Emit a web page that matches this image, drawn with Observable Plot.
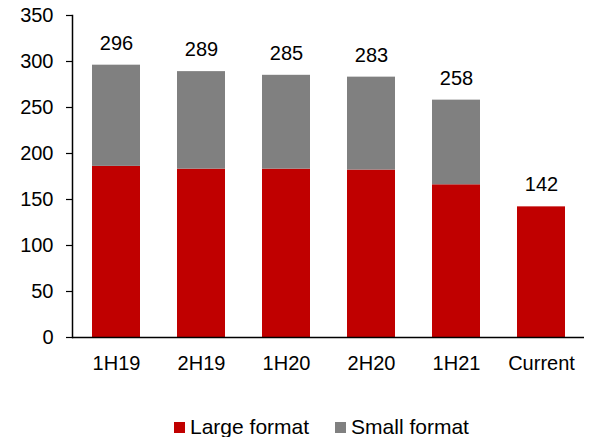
<!DOCTYPE html>
<html>
<head>
<meta charset="utf-8">
<script src="https://cdn.jsdelivr.net/npm/d3@7"></script>
<script src="https://cdn.jsdelivr.net/npm/@observablehq/plot@0.6"></script>
<style>
  body { margin: 0; background: #fff; font-family: "Liberation Sans", Arial, sans-serif; overflow: hidden; }
  #chart { width: 601px; }
  .legend { display: flex; justify-content: flex-start; align-items: center; gap: 26px;
            font-size: 21px; line-height: 24px; color: #000; padding-left: 174px; margin-top: 25px; }
  .legend span { display: inline-flex; align-items: center; }
  .legend i { display: inline-block; width: 11px; height: 11px; margin-right: 5px; }
</style>
</head>
<body>
<div id="chart"></div>
<script>
// Store counts by half-year period
const periods = ["1H19", "2H19", "1H20", "2H20", "1H21", "Current"];
const largeFormat = [186, 183, 183, 182, 166, 142];
const smallFormat = [110, 106, 102, 101, 92, 0];
const totals = [296, 289, 285, 283, 258, 142];
const seriesNames = ["Large format", "Small format"];
const seriesColors = ["#C00000", "#808080"];
const yTicks = [0, 50, 100, 150, 200, 250, 300, 350];

const rows = [];
periods.forEach((p, i) => {
  rows.push({period: p, series: seriesNames[0], value: largeFormat[i]});
  rows.push({period: p, series: seriesNames[1], value: smallFormat[i]});
});
const labels = periods.map((p, i) => ({period: p, total: totals[i]}));

const plot = Plot.plot({
  width: 601,
  height: 390,
  marginLeft: 72,
  marginRight: 17,
  marginTop: 15,
  marginBottom: 53,
  style: {fontFamily: "'Liberation Sans', Arial, sans-serif", fontSize: "20px", color: "#000"},
  x: {domain: periods, paddingInner: 0.44, paddingOuter: 0.22, label: null},
  y: {domain: [0, 350], label: null},
  color: {domain: seriesNames, range: seriesColors},
  marks: [
    Plot.barY(rows, {x: "period", y: "value", fill: "series", order: seriesNames}),
    Plot.text(labels, {x: "period", y: "total", text: d => String(d.total), dy: -22, fontSize: 20, fill: "#000"}),
    Plot.axisY({ticks: yTicks, tickSize: 6, tickPadding: 13, fontSize: 20, label: null, stroke: "#000", strokeWidth: 1.2}),
    Plot.axisX({tickSize: 0, tickPadding: 18, fontSize: 20, label: null}),
    Plot.frame({anchor: "left", stroke: "#000", strokeWidth: 1.5}),
    Plot.ruleY([0], {stroke: "#000", strokeWidth: 1.5})
  ]
});
document.getElementById("chart").appendChild(plot);

const legend = document.createElement("div");
legend.className = "legend";
seriesNames.forEach((name, i) => {
  const item = document.createElement("span");
  const sw = document.createElement("i");
  sw.style.background = seriesColors[i];
  item.appendChild(sw);
  item.appendChild(document.createTextNode(name));
  legend.appendChild(item);
});
document.getElementById("chart").appendChild(legend);
</script>
</body>
</html>
